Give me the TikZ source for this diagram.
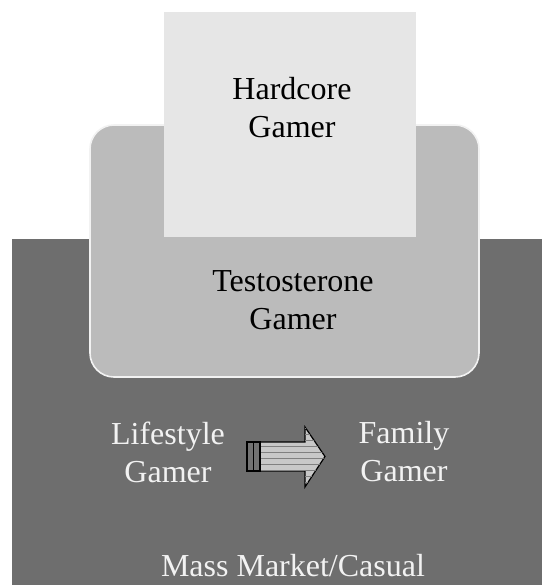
\documentclass[tikz,border=0pt]{standalone}
\usepackage{fontspec}
\setmainfont{Liberation Serif}
\usetikzlibrary{patterns}
\definecolor{lightbox}{HTML}{E6E6E6}
\definecolor{midbox}{HTML}{BBBBBB}
\definecolor{darkbox}{HTML}{6E6E6E}
\definecolor{palewhite}{HTML}{F2F2F2}
\definecolor{arrowgrey}{HTML}{C8C8C8}

\begin{document}
\begin{tikzpicture}[x=0.5pt, y=-0.5pt,
  tier/.style={font=\fontsize{16}{19}\selectfont, align=center, inner sep=0pt},
  darktier/.style={tier, text=palewhite}]

% Frame
\useasboundingbox (0,0) rectangle (542,585);
\fill[white] (0,0) rectangle (542,585);

% Mass market block
\fill[darkbox] (12,239) rectangle (542,585);

% Testosterone block
\filldraw[fill=midbox, draw=palewhite, line width=0.8pt, rounded corners=12pt] (90,125) rectangle (479,377);

% Hardcore block
\fill[lightbox] (164,12) rectangle (416,237);

% Labels
\node[tier] (hardcore) at (292,108) {Hardcore\\Gamer};
\node[tier] (testosterone) at (293,300) {Testosterone\\Gamer};
\node[darktier] (lifestyle) at (168,452) {Lifestyle\\Gamer};
\node[darktier] (family) at (404,452) {Family\\Gamer};
\node[darktier] (mass) at (293,566) {Mass Market/Casual};

% Block arrow between lifestyle and family
\filldraw[fill=arrowgrey, draw=black, line width=0.6pt]
  (247,442) -- (305,442) -- (305,427) -- (325,456.5) -- (305,487) -- (305,471) -- (247,471) -- cycle;
\fill[pattern=horizontal lines, pattern color=gray]
  (260,442) -- (305,442) -- (305,427) -- (325,456.5) -- (305,487) -- (305,471) -- (260,471) -- cycle;
\filldraw[fill=black!55, draw=black, line width=0.6pt] (247,442) rectangle (260,471);
\fill[pattern=vertical lines, pattern color=black] (247,442) rectangle (260,471);

\end{tikzpicture}
\end{document}
